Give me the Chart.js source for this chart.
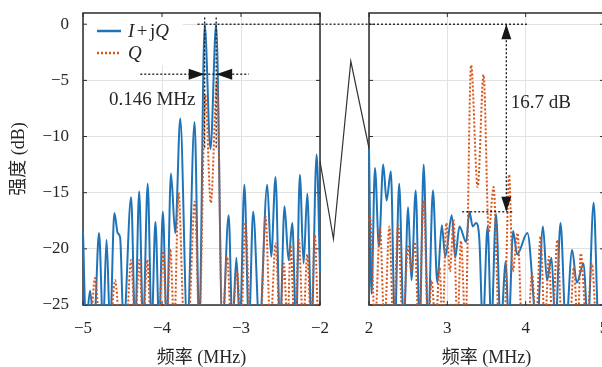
<!DOCTYPE html>
<html lang="zh">
<head>
<meta charset="UTF-8">
<title>频谱</title>
<script src="https://cdn.jsdelivr.net/npm/chart.js@4.4.1/dist/chart.umd.min.js"></script>
<style>
  html, body { margin: 0; padding: 0; background: #fff; overflow: hidden; }
  #wrap { position: relative; width: 602px; height: 367px; overflow: hidden; }
  #left { position: absolute; left: 0; top: 0; }
  #right { position: absolute; left: 340px; top: 0; }
</style>
</head>
<body>
<div id="wrap">
  <canvas id="left" width="369" height="367" style="width:369px;height:367px"></canvas>
  <canvas id="right" width="280" height="367" style="width:280px;height:367px"></canvas>
</div>
<script>
// ---- 数据 (频率 MHz / 强度 dB，-27 表示落在坐标下限之外的零点) ----
const dbTicks = [-25, -20, -15, -10, -5, 0];
const xTicksLeft = [-5, -4, -3, -2];
const xTicksRight = [2, 3, 4, 5];

const leftIQFreq = [-5.000,-4.962,-4.911,-4.860,-4.797,-4.746,-4.702,-4.657,-4.603,-4.560,-4.530,-4.486,-4.391,-4.340,-4.289,-4.239,-4.181,-4.131,-4.083,-4.036,-3.989,-3.940,-3.887,-3.832,-3.769,-3.680,-3.588,-3.528,-3.460,-3.386,-3.314,-3.236,-3.156,-3.109,-3.058,-3.014,-2.957,-2.900,-2.846,-2.766,-2.668,-2.618,-2.563,-2.506,-2.449,-2.398,-2.351,-2.303,-2.255,-2.208,-2.161,-2.107,-2.043,-2.000];
const leftIQdB   = [-18.5,-27,-23.7,-27,-18.6,-27,-19.2,-27,-16.8,-18.6,-19.0,-27,-15.4,-27,-14.9,-27,-14.2,-27,-17.6,-27,-16.7,-27,-13.3,-18.6,-8.4,-27,-8.7,-27,0,-11.1,0,-27,-17.0,-27,-20.8,-27,-14.3,-27,-16.7,-27,-14.3,-20.7,-13.6,-27,-16.2,-21.0,-17.7,-27,-13.4,-21.3,-15.1,-27,-11.6,-22];

const leftQFreq = [-5.000,-4.911,-4.848,-4.784,-4.657,-4.594,-4.530,-4.454,-4.391,-4.340,-4.289,-4.239,-4.188,-4.137,-4.048,-3.985,-3.940,-3.896,-3.845,-3.791,-3.718,-3.668,-3.585,-3.528,-3.452,-3.382,-3.303,-3.236,-3.176,-3.122,-3.049,-3.001,-2.944,-2.881,-2.754,-2.690,-2.627,-2.563,-2.506,-2.458,-2.411,-2.373,-2.322,-2.268,-2.214,-2.161,-2.113,-2.065,-2.018,-2.000];
const leftQdB   = [-27,-27,-22.6,-27,-27,-22.8,-27,-27,-21.0,-27,-21.0,-27,-21.0,-27,-27,-20.2,-27,-20.0,-27,-15.0,-27,-27,-15.8,-27,-6.3,-15.9,-5.1,-27,-20.7,-27,-22.0,-27,-17.7,-27,-27,-17.1,-27,-19.5,-27,-21.3,-27,-19.7,-27,-19.2,-27,-20.5,-27,-18.8,-27,-27];

const rightIQFreq = [2.000,2.032,2.076,2.127,2.181,2.225,2.279,2.330,2.385,2.444,2.499,2.542,2.596,2.647,2.698,2.755,2.816,2.872,2.930,2.973,3.057,3.100,3.155,3.240,3.282,3.324,3.367,3.409,3.453,3.514,3.561,3.621,3.681,3.747,3.783,3.840,3.891,4.022,4.145,4.221,4.272,4.330,4.380,4.445,4.513,4.593,4.652,4.741,4.792,4.868,4.931,5.000];
const rightIQdB   = [-11.2,-24,-12.8,-19.8,-12.5,-15.7,-13.1,-27,-14.2,-27,-16.3,-22.8,-14.8,-27,-12.5,-27,-14.8,-23.0,-17.9,-20.7,-17.0,-20.8,-18.0,-19.4,-16.7,-18.0,-17.7,-19.2,-27,-18.0,-27,-16.9,-27,-21.1,-27,-18.4,-20.5,-18.6,-27,-18.0,-22.8,-20.8,-27,-17.7,-27,-20.1,-23.0,-21.3,-27,-15.9,-27,-27];

const rightQFreq = [2.000,2.013,2.076,2.140,2.197,2.260,2.311,2.372,2.431,2.499,2.543,2.584,2.635,2.698,2.755,2.799,2.850,2.901,2.939,2.986,3.034,3.079,3.129,3.174,3.231,3.303,3.387,3.463,3.529,3.590,3.662,3.726,3.789,3.834,3.897,3.954,4.030,4.081,4.132,4.189,4.245,4.297,4.341,4.405,4.462,4.563,4.614,4.665,4.703,4.779,4.846,4.906,5.000];
const rightQdB   = [-17.5,-17.1,-27,-18.1,-27,-18.0,-27,-17.9,-27,-19.8,-22.0,-19.4,-27,-15.7,-27,-22.8,-27,-21.6,-27,-17.7,-22.0,-17.4,-27,-19.3,-27,-3.65,-14.5,-4.5,-18.5,-14.5,-27,-27,-13.4,-22.0,-18.6,-27,-27,-22.2,-27,-18.9,-27,-20.7,-27,-19.2,-27,-27,-21.6,-27,-20.4,-27,-21.3,-27,-27];

// 断轴折线
const breakFreq = [-2.0, -1.83, -1.61, -1.378];
const breakDB   = [-12.2, -19.1, -3.3, -11.1];

// 0.146 MHz 标注
const bwEdges = [-3.46, -3.314];
const bwMarkTop = 0.6, bwMarkBottom = -11;
const bwLevel = -4.45;
const bwSpan = [-4.275, -2.90];
// 0 dB 参考线 (左图延伸穿过断口)
const refLeft = [-3.55, breakFreq[3]];
const refRight = [2.0, 4.02];
// 16.7 dB 标注
const supFreq = 3.753;
const supLevel = -16.7;
const supSpan = [3.19, 3.83];

// ---- 样式 ----
const serif = '"Liberation Serif", "Times New Roman", serif';
const cjk = '"Liberation Serif", "Noto Sans CJK SC", serif';
const textColor = '#262626';
const frameColor = '#2b2b2b';
const gridColor = '#e2e2e2';
const blue = '#1f74b8';
const orange = '#d9541a';
const annoColor = '#161616';

Chart.defaults.font.family = serif;
Chart.defaults.color = textColor;

function minusFmt(v) { return v < 0 ? '\u2212' + Math.abs(v) : String(v); }
function xy(fs, ds) { return fs.map((f, i) => ({ x: f, y: ds[i] })); }

function curve(label, fs, ds, color, dash, order) {
  return { label, data: xy(fs, ds), borderColor: color, borderWidth: 2, borderDash: dash,
           pointRadius: 0, cubicInterpolationMode: 'monotone', fill: false, order };
}
function guide(fs, ds, extra) {
  return Object.assign({ data: xy(fs, ds), borderColor: annoColor, borderWidth: 1.3,
           borderDash: [2, 2], pointRadius: 0, fill: false, order: 0 }, extra || {});
}

function noEdgePad(s) { s.paddingTop = 0; s.paddingBottom = 0; s.paddingLeft = 0; s.paddingRight = 0; }

function scalesFor(xMin, xMax, xTicks, yWidth, showY) {
  return {
    x: {
      type: 'linear', bounds: 'data',
      // 范围在数据极限之后设定，使断口中的折线不被裁掉
      afterDataLimits: s => { s.min = xMin; s.max = xMax; },
      afterBuildTicks: a => { a.ticks = xTicks.map(v => ({ value: v })); },
      afterFit: s => { s.height = 62; noEdgePad(s); },
      grid: { color: gridColor, drawTicks: false },
      border: { display: false },
      ticks: { padding: 13, maxRotation: 0, font: { family: serif, size: 17 }, callback: minusFmt },
      title: { display: true, text: '频率 (MHz)', font: { family: cjk, size: 18, lineHeight: 1 }, padding: 0 }
    },
    y: {
      type: 'linear', min: -25, max: 1,
      afterBuildTicks: a => { a.ticks = dbTicks.map(v => ({ value: v })); },
      afterFit: s => { s.width = yWidth; noEdgePad(s); },
      grid: { color: gridColor, drawTicks: false },
      border: { display: false },
      ticks: { display: showY, padding: 14, font: { family: serif, size: 17 }, callback: minusFmt },
      title: { display: showY, text: '强度 (dB)', font: { family: cjk, size: 18, lineHeight: 1 }, padding: { top: 10, bottom: 0 } }
    }
  };
}

function arrowHead(ctx, x, y, dx, dy, len, half) {
  const bx = x - dx * len, by = y - dy * len;
  ctx.beginPath();
  ctx.moveTo(x, y);
  ctx.lineTo(bx - dy * half, by + dx * half);
  ctx.lineTo(bx + dy * half, by - dx * half);
  ctx.closePath();
  ctx.fill();
}

// 边框、内向刻度、箭头、文字、图例
function decorations(cfg) {
  return {
    id: 'decor',
    beforeDatasetsDraw(chart) {
      const { ctx, chartArea: a, scales: { x, y } } = chart;
      ctx.save();
      if (cfg.legend) { ctx.fillStyle = '#fff'; ctx.fillRect(a.left + 1, a.top + 1, 99, 51); }
      ctx.strokeStyle = frameColor;
      ctx.lineWidth = 1;
      ctx.beginPath();
      x.ticks.forEach(t => {
        const p = x.getPixelForValue(t.value);
        ctx.moveTo(p, a.top); ctx.lineTo(p, a.top + 4);
        ctx.moveTo(p, a.bottom); ctx.lineTo(p, a.bottom - 4);
      });
      y.ticks.forEach(t => {
        const p = y.getPixelForValue(t.value);
        ctx.moveTo(a.left, p); ctx.lineTo(a.left + 4, p);
        ctx.moveTo(a.right, p); ctx.lineTo(a.right - 4, p);
      });
      ctx.stroke();
      ctx.lineWidth = 1.5;
      ctx.strokeRect(a.left, a.top, a.right - a.left, a.bottom - a.top);
      ctx.restore();
    },
    afterDatasetsDraw(chart) {
      const { ctx, chartArea: a, scales: { x, y } } = chart;
      ctx.save();
      ctx.fillStyle = annoColor;
      cfg.arrows.forEach(ar => {
        arrowHead(ctx, x.getPixelForValue(ar.x), y.getPixelForValue(ar.y), ar.dir[0], ar.dir[1], ar.len, ar.half);
      });
      ctx.fillStyle = textColor;
      ctx.font = '19px ' + serif;
      ctx.textBaseline = 'middle';
      cfg.notes.forEach(n => {
        ctx.textAlign = n.align;
        ctx.fillText(n.text, x.getPixelForValue(n.x), y.getPixelForValue(n.y));
      });
      if (cfg.legend) {
        ctx.textAlign = 'left';
        cfg.legend.forEach((item, i) => {
          const ly = a.top + 18 + i * 22;
          ctx.strokeStyle = item.color;
          ctx.lineWidth = 2.5;
          ctx.setLineDash(item.dash);
          ctx.beginPath();
          ctx.moveTo(a.left + 14, ly); ctx.lineTo(a.left + 38, ly);
          ctx.stroke();
          ctx.setLineDash([]);
          let tx = a.left + 45;
          item.parts.forEach(([s, it, gap]) => {
            ctx.font = (it ? 'italic ' : '') + '19px ' + serif;
            tx += gap || 0;
            ctx.fillText(s, tx, ly + 1);
            tx += ctx.measureText(s).width + (gap || 0);
          });
        });
      }
      ctx.restore();
    }
  };
}

const baseOptions = {
  responsive: false,
  animation: false,
  devicePixelRatio: 1,
  plugins: { legend: { display: false }, tooltip: { enabled: false } }
};

new Chart(document.getElementById('left'), {
  type: 'line',
  data: {
    datasets: [
      curve('I+jQ', leftIQFreq, leftIQdB, blue, [], 2),
      curve('Q', leftQFreq, leftQdB, orange, [2, 2], 1),
      guide(breakFreq, breakDB, { borderColor: '#333', borderDash: [], borderWidth: 1.2, clip: false }),
      guide(refLeft, [0, 0], { clip: false }),
      guide([bwEdges[0], bwEdges[0]], [bwMarkTop, bwMarkBottom]),
      guide([bwEdges[1], bwEdges[1]], [bwMarkTop, bwMarkBottom]),
      guide(bwSpan, [bwLevel, bwLevel])
    ]
  },
  options: Object.assign({}, baseOptions, {
    layout: { padding: { top: 13, right: 49, left: 0, bottom: 0 } },
    scales: scalesFor(-5, -2, xTicksLeft, 83, true)
  }),
  plugins: [decorations({
    arrows: [
      { x: bwEdges[0], y: bwLevel, dir: [1, 0], len: 16, half: 5.5 },
      { x: bwEdges[1], y: bwLevel, dir: [-1, 0], len: 16, half: 5.5 }
    ],
    notes: [{ text: '0.146 MHz', x: -4.124, y: -6.76, align: 'center' }],
    legend: [
      { color: blue, dash: [], parts: [['I', true], ['+', false, 2.5], ['j', false], ['Q', true]] },
      { color: orange, dash: [2, 2], parts: [['Q', true]] }
    ]
  })]
});

new Chart(document.getElementById('right'), {
  type: 'line',
  data: {
    datasets: [
      curve('I+jQ', rightIQFreq, rightIQdB, blue, [], 2),
      curve('Q', rightQFreq, rightQdB, orange, [2, 2], 1),
      guide(refRight, [0, 0]),
      guide([supFreq, supFreq], [0, supLevel]),
      guide(supSpan, [supLevel, supLevel])
    ]
  },
  options: Object.assign({}, baseOptions, {
    layout: { padding: { top: 13, right: 16, left: 0, bottom: 0 } },
    scales: scalesFor(2, 5, xTicksRight, 29, false)
  }),
  plugins: [decorations({
    arrows: [
      { x: supFreq, y: 0, dir: [0, -1], len: 15, half: 5 },
      { x: supFreq, y: supLevel, dir: [0, 1], len: 15, half: 5 }
    ],
    notes: [{ text: '16.7 dB', x: 3.811, y: -7.03, align: 'left' }],
    legend: null
  })]
});
</script>
</body>
</html>
